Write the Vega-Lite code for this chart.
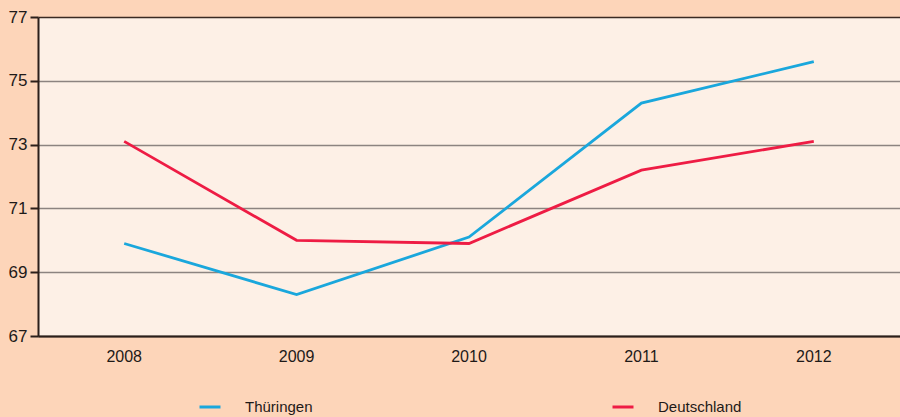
{
  "$schema": "https://vega.github.io/schema/vega-lite/v6.json",
  "width": 862,
  "height": 319,
  "autosize": {"type": "none"},
  "padding": {"left": 38, "top": 17, "right": 0, "bottom": 81},
  "background": "#fdd5b9",
  "config": {
    "view": {"fill": "#fdf0e6", "stroke": null},
    "font": "Liberation Sans"
  },
  "data": {
    "values": [
      {"jahr": "2008", "region": "Thüringen", "wert": 69.9},
      {"jahr": "2009", "region": "Thüringen", "wert": 68.3},
      {"jahr": "2010", "region": "Thüringen", "wert": 70.1},
      {"jahr": "2011", "region": "Thüringen", "wert": 74.3},
      {"jahr": "2012", "region": "Thüringen", "wert": 75.6},
      {"jahr": "2008", "region": "Deutschland", "wert": 73.1},
      {"jahr": "2009", "region": "Deutschland", "wert": 70.0},
      {"jahr": "2010", "region": "Deutschland", "wert": 69.9},
      {"jahr": "2011", "region": "Deutschland", "wert": 72.2},
      {"jahr": "2012", "region": "Deutschland", "wert": 73.1}
    ]
  },
  "mark": {"type": "line", "strokeWidth": 2.8},
  "encoding": {
    "x": {
      "field": "jahr",
      "type": "ordinal",
      "scale": {"type": "band", "paddingInner": 0, "paddingOuter": 0},
      "axis": {
        "title": null,
        "labelAngle": 0,
        "labelFontSize": 16,
        "labelColor": "#1e1a18",
        "labelPadding": 12,
        "ticks": false,
        "domainColor": "#2b1f1a",
        "domainWidth": 2,
        "grid": false
      }
    },
    "y": {
      "field": "wert",
      "type": "quantitative",
      "scale": {"domain": [67, 77], "nice": false, "zero": false},
      "axis": {
        "title": null,
        "values": [67, 69, 71, 73, 75, 77],
        "labelFontSize": 17,
        "labelColor": "#1e1a18",
        "labelPadding": 3,
        "tickSize": 8,
        "tickColor": "#2b1f1a",
        "tickWidth": 2,
        "domainColor": "#2b1f1a",
        "domainWidth": 2,
        "grid": true,
        "gridColor": {"condition": {"test": "datum.value === 77 || datum.value === 67", "value": "#3a2a22"}, "value": "#8c8480"},
        "gridWidth": 1.5,
        "gridOpacity": 1
      }
    },
    "color": {
      "field": "region",
      "type": "nominal",
      "scale": {"domain": ["Thüringen", "Deutschland"], "range": ["#1aa7dc", "#ee1c44"]},
      "legend": {
        "title": null,
        "orient": "none",
        "legendX": 160,
        "legendY": 378,
        "direction": "horizontal",
        "symbolType": "stroke",
        "symbolSize": 441,
        "symbolStrokeWidth": 3,
        "labelOffset": 23,
        "labelFontSize": 15,
        "labelColor": "#1e1a18",
        "columnPadding": 293
      }
    }
  }
}
